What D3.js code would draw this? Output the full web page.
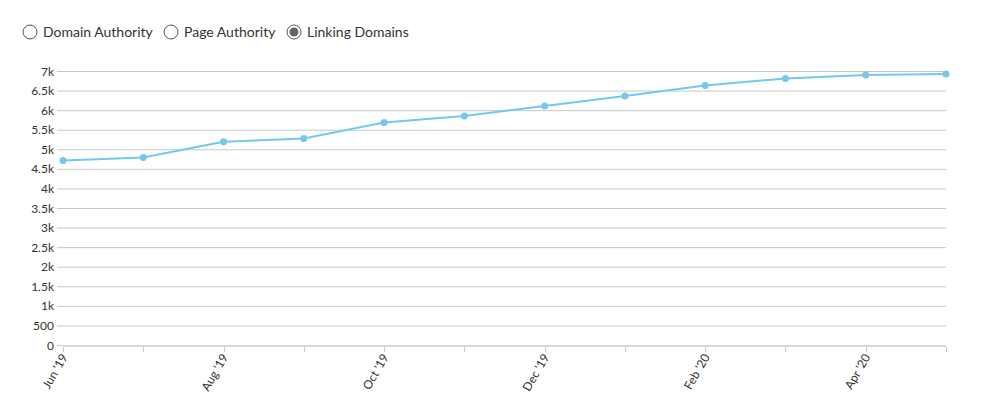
<!DOCTYPE html>
<html><head><meta charset="utf-8">
<script src="https://cdn.jsdelivr.net/npm/d3@7"></script>
<style>
body{margin:0;background:#fff;font-family:Lato,"Open Sans",sans-serif;}
svg{display:block}
</style></head><body>
<svg id="c" width="982" height="419"></svg>
<script>
const months = ["Jun '19","Jul '19","Aug '19","Sep '19","Oct '19","Nov '19","Dec '19","Jan '20","Feb '20","Mar '20","Apr '20","May '20"];
const linkingDomains = [4715,4790,5190,5275,5685,5850,6105,6360,6630,6810,6900,6925];
const yTicks = [0,500,1000,1500,2000,2500,3000,3500,4000,4500,5000,5500,6000,6500,7000];
const yTickLabels = ["0","500","1k","1.5k","2k","2.5k","3k","3.5k","4k","4.5k","5k","5.5k","6k","6.5k","7k"];
const legendItems = ["Domain Authority","Page Authority","Linking Domains"];
const selected = "Linking Domains";

const svg = d3.select("#c");
const m = {l:63, r:946, t:71, b:345};
const x = d3.scalePoint().domain(months).range([m.l, m.r]);
const y = d3.scaleLinear().domain([0,7000]).range([m.b, m.t]);

// grid
svg.append("g").selectAll("line").data(yTicks.filter(d=>d>0)).join("line")
  .attr("x1", m.l-6).attr("x2", m.r).attr("y1", d=>y(d)+0.5).attr("y2", d=>y(d)+0.5)
  .attr("stroke","#c8c8c8").attr("stroke-width",1);
// y labels
svg.append("g").selectAll("text").data(yTicks).join("text")
  .attr("x", 54).attr("y", d=>y(d)+4.5).attr("text-anchor","end")
  .attr("font-size",12).attr("fill","#333").attr("font-family","Lato, sans-serif")
  .text((d,i)=>yTickLabels[i]);
// zero tick
svg.append("line").attr("x1",m.l-6).attr("x2",m.l).attr("y1",y(0)+0.5).attr("y2",y(0)+0.5).attr("stroke","#c8c8c8");
// x baseline
svg.append("line").attr("x1",m.l).attr("x2",m.r).attr("y1",y(0)+1).attr("y2",y(0)+1)
  .attr("stroke","#d8d8d8").attr("stroke-width",2);
// x ticks
svg.append("g").selectAll("line").data(months).join("line")
  .attr("x1", d=>Math.round(x(d))+0.5).attr("x2", d=>Math.round(x(d))+0.5)
  .attr("y1", y(0)+2).attr("y2", y(0)+7).attr("stroke","#c8c8c8");
// x labels
svg.append("g").selectAll("text").data(months.filter((d,i)=>i%2===0)).join("text")
  .attr("text-anchor","end").attr("font-size",12).attr("fill","#333").attr("font-family","Lato, sans-serif")
  .attr("transform", d=>`translate(${x(d)+5},${y(0)+12}) rotate(-60)`)
  .text(d=>d);

// line
const line = d3.line().x((d,i)=>x(months[i])).y(d=>y(d));
svg.append("path").datum(linkingDomains).attr("d", line)
  .attr("fill","none").attr("stroke","#74c8ec").attr("stroke-width",2);
svg.append("g").selectAll("circle").data(linkingDomains).join("circle")
  .attr("cx",(d,i)=>x(months[i])).attr("cy",d=>y(d)).attr("r",3.5).attr("fill","#74c8ec");

// legend
const legX = [30, 171, 294];
const lg = svg.append("g").selectAll("g").data(legendItems).join("g")
  .attr("transform",(d,i)=>`translate(${legX[i]},32)`);
lg.append("circle").attr("r",7).attr("fill","#fff").attr("stroke","#555").attr("stroke-width",1);
lg.filter(d=>d===selected).append("circle").attr("r",4.5).attr("fill","#666");
lg.append("text").attr("x",13).attr("y",5).attr("font-size",14).attr("fill","#333")
  .attr("font-family","Lato, sans-serif").text(d=>d);
</script>
</body></html>
